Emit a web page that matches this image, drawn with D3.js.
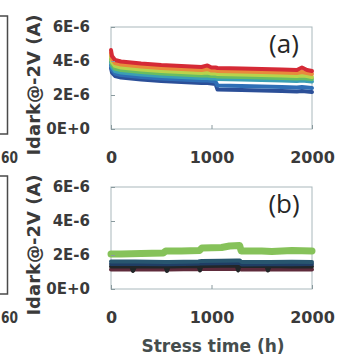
<!DOCTYPE html>
<html>
<head>
<meta charset="utf-8">
<script src="https://cdn.jsdelivr.net/npm/d3@7"></script>
<style>
  body { margin: 0; background: #fff; }
  svg { display: block; }
</style>
</head>
<body>
<svg id="chart" width="351" height="359"></svg>
<script>
// values in units of 1E-6 A
const timeA = [0, 10, 40, 100, 200, 300, 500, 700, 900, 960, 1000, 1040, 1060, 1300, 1500, 1700, 1850, 1900, 1950, 2000];
const redA    = [4.65, 4.29, 4.06, 3.97, 3.91, 3.85, 3.76, 3.71, 3.65, 3.74, 3.62, 3.62, 3.59, 3.56, 3.53, 3.50, 3.47, 3.62, 3.47, 3.41];
const orangeA = [4.47, 4.12, 3.88, 3.79, 3.74, 3.68, 3.59, 3.53, 3.47, 3.53, 3.44, 3.44, 3.41, 3.38, 3.35, 3.32, 3.29, 3.35, 3.29, 3.24];
const limeA   = [4.29, 3.94, 3.71, 3.62, 3.56, 3.50, 3.41, 3.35, 3.29, 3.32, 3.26, 3.26, 3.24, 3.21, 3.18, 3.15, 3.12, 3.15, 3.12, 3.06];
const greenA  = [4.12, 3.79, 3.56, 3.47, 3.41, 3.35, 3.26, 3.21, 3.15, 3.15, 3.12, 3.12, 3.09, 3.06, 3.03, 3.00, 2.97, 3.00, 2.97, 2.94];
const tealA   = [3.94, 3.65, 3.41, 3.32, 3.26, 3.21, 3.12, 3.06, 3.00, 3.00, 2.97, 2.97, 2.94, 2.91, 2.88, 2.85, 2.82, 2.85, 2.82, 2.79];
const blueA   = [3.76, 3.47, 3.26, 3.18, 3.12, 3.06, 2.97, 2.91, 2.85, 2.85, 2.82, 2.79, 2.56, 2.53, 2.50, 2.47, 2.44, 2.47, 2.44, 2.41];
const navyA   = [3.59, 3.32, 3.12, 3.03, 2.97, 2.91, 2.82, 2.76, 2.71, 2.71, 2.68, 2.65, 2.32, 2.29, 2.26, 2.24, 2.21, 2.24, 2.21, 2.18];

const timeG  = [0, 100, 300, 520, 545, 700, 880, 905, 1100, 1180, 1280, 1295, 1500, 1600, 1800, 2000];
const greenB = [2.06, 2.06, 2.09, 2.12, 2.24, 2.24, 2.26, 2.41, 2.44, 2.53, 2.56, 2.24, 2.24, 2.21, 2.26, 2.24];

const timeB   = [0, 200, 219, 240, 540, 557, 575, 870, 886, 900, 1100, 1250, 1265, 1280, 1300, 1545, 1562, 1580, 1800, 2000];
const blackB  = [1.32, 1.32, 1.06, 1.32, 1.32, 1.06, 1.32, 1.35, 1.09, 1.35, 1.37, 1.38, 1.09, 1.38, 1.35, 1.35, 1.09, 1.35, 1.33, 1.32];
const tealB   = [1.62, 1.62, 1.62, 1.62, 1.59, 1.59, 1.59, 1.62, 1.64, 1.65, 1.66, 1.68, 1.68, 1.68, 1.59, 1.59, 1.59, 1.59, 1.60, 1.59];
const blueB   = [1.47, 1.47, 1.47, 1.47, 1.45, 1.45, 1.45, 1.48, 1.50, 1.50, 1.52, 1.53, 1.53, 1.53, 1.44, 1.45, 1.45, 1.45, 1.46, 1.47];
const maroonB = [1.15, 1.15, 1.12, 1.15, 1.15, 1.13, 1.15, 1.17, 1.14, 1.17, 1.18, 1.18, 1.15, 1.18, 1.15, 1.15, 1.13, 1.15, 1.15, 1.15];

const yTicks = [0, 2, 4, 6];
const yTickLabels = ['0E+0', '2E-6', '4E-6', '6E-6'];
const xTicks = [0, 1000, 2000];

const svg = d3.select('#chart');
const tickFont = "'DejaVu Sans', sans-serif";
const textColor = '#3a3a3a';

const x = d3.scaleLinear().domain([0, 2000]).range([111, 312]);

function drawPanel(top, bottom, letter, series) {
    const y = d3.scaleLinear().domain([0, 6]).range([bottom, top]);
    const g = svg.append('g');

    // frame
    g.append('rect')
        .attr('x', x(0)).attr('y', y(6))
        .attr('width', x(2000) - x(0)).attr('height', y(0) - y(6))
        .attr('fill', 'none').attr('stroke', '#a9b8bc').attr('stroke-width', 1);

    const line = d3.line().x(d => x(d[0])).y(d => y(d[1]));
    series.forEach(s => {
        g.append('path')
            .datum(s.t.map((t, i) => [t, s.v[i]]))
            .attr('d', line)
            .attr('fill', 'none')
            .attr('stroke', s.color)
            .attr('stroke-width', s.w || 4)
            .attr('stroke-linejoin', 'round')
            .attr('stroke-linecap', 'round');
    });

    const yAxis = g.append('g')
        .attr('transform', `translate(${x(0)},0)`)
        .call(d3.axisLeft(y).tickValues(yTicks)
            .tickFormat((d, i) => yTickLabels[i])
            .tickSizeInner(-4).tickSizeOuter(0).tickPadding(21));
    const xAxis = g.append('g')
        .attr('transform', `translate(0,${y(0)})`)
        .call(d3.axisBottom(x).tickValues(xTicks).tickFormat(d3.format('d'))
            .tickSizeInner(-4).tickSizeOuter(0).tickPadding(23));

    [yAxis, xAxis].forEach(a => {
        a.select('.domain').remove();
        a.selectAll('.tick line').attr('stroke', '#8a9a9e');
        a.selectAll('.tick text')
            .attr('font-family', tickFont)
            .attr('font-weight', 'bold')
            .attr('font-size', a === yAxis ? 15 : 16)
            .attr('fill', textColor);
    });

    // y title
    g.append('text')
        .attr('transform', `translate(40,${(top + bottom) / 2 + 7}) rotate(-90)`)
        .attr('text-anchor', 'middle')
        .attr('font-family', tickFont)
        .attr('font-weight', 'bold')
        .attr('font-size', 18)
        .attr('fill', textColor)
        .text('Idark@-2V (A)');

    // panel letter
    g.append('text')
        .attr('x', 284).attr('y', top + 26)
        .attr('text-anchor', 'middle')
        .attr('font-family', "'Open Sans', sans-serif")
        .attr('font-size', 26)
        .attr('fill', '#262626')
        .text(letter);

    // edge of the neighbouring panel on the left
    g.append('path')
        .attr('d', `M0,${top - 11}H7.5V${bottom + 5}H0`)
        .attr('fill', 'none').attr('stroke', '#4a4a4a').attr('stroke-width', 1.5);
    g.append('text')
        .attr('x', 1).attr('y', bottom + 34)
        .attr('textLength', 17)
        .attr('lengthAdjust', 'spacingAndGlyphs')
        .attr('font-family', tickFont)
        .attr('font-weight', 'bold')
        .attr('font-size', 15)
        .attr('fill', textColor)
        .text('60');
}

drawPanel(27, 129, '(a)', [
    {t: timeA, v: navyA,   color: '#2b4f98'},
    {t: timeA, v: blueA,   color: '#2f6fb6'},
    {t: timeA, v: tealA,   color: '#3b9fb4'},
    {t: timeA, v: greenA,  color: '#68bd62'},
    {t: timeA, v: limeA,   color: '#b9d34c'},
    {t: timeA, v: orangeA, color: '#e88a3c'},
    {t: timeA, v: redA,    color: '#d52a36'}
]);

drawPanel(187, 289, '(b)', [
    {t: timeB, v: maroonB, color: '#5e2b3b'},
    {t: timeB, v: blackB,  color: '#222628'},
    {t: timeB, v: blueB,   color: '#1f3d64'},
    {t: timeB, v: tealB,   color: '#28566f'},
    {t: timeG, v: greenB,  color: '#86c25a', w: 7}
]);

svg.append('text')
    .attr('x', 213).attr('y', 352)
    .attr('text-anchor', 'middle')
    .attr('font-family', tickFont)
    .attr('font-weight', 'bold')
    .attr('font-size', 17)
    .attr('fill', '#454d4d')
    .text('Stress time (h)');
</script>
</body>
</html>
